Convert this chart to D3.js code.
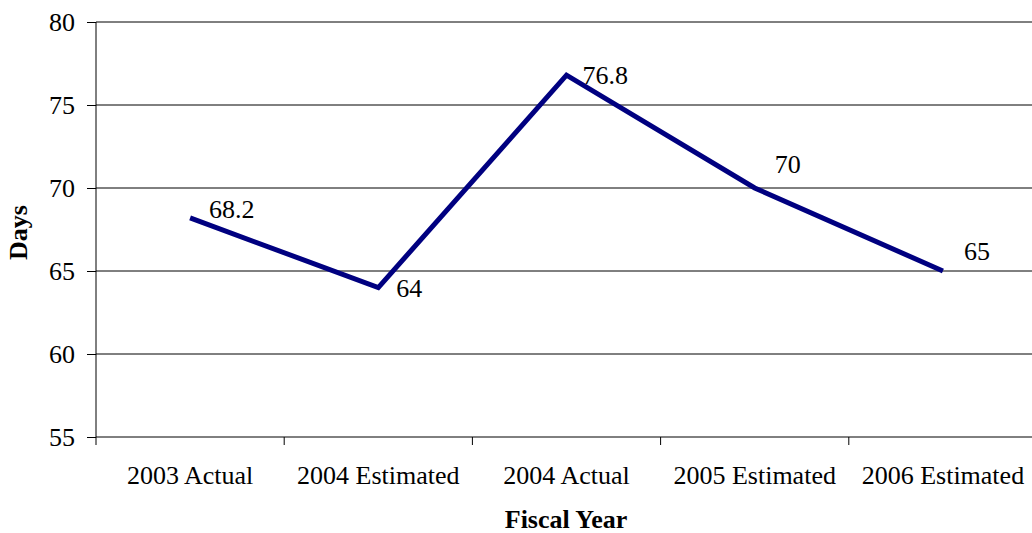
<!DOCTYPE html>
<html>
<head>
<meta charset="utf-8">
<script src="https://cdn.jsdelivr.net/npm/d3@7"></script>
<style>
  html, body { margin: 0; padding: 0; background: #fff; }
  svg { display: block; }
  svg text { font-family: "Liberation Serif", "Times New Roman", "DejaVu Serif", serif; }
</style>
</head>
<body>
<div id="chart"></div>
<script>
const categories = ["2003 Actual", "2004 Estimated", "2004 Actual", "2005 Estimated", "2006 Estimated"];
const days = [68.2, 64, 76.8, 70, 65];
const yTicks = [55, 60, 65, 70, 75, 80];
// hand-placed label nudges (dx from point, dy of text centre from point)
const labelNudge = [[19, -9], [18, 0], [16, 0], [20, -24], [21, -20]];

const SERIF = "Liberation Serif";
const W = 1032, H = 533;
const margin = { top: 22, right: -5, bottom: 96, left: 96 };

const svg = d3.select("#chart").append("svg")
  .attr("width", W).attr("height", H)
  .attr("font-family", SERIF);

const x = d3.scaleBand().domain(categories).range([margin.left, W - margin.right]);
const y = d3.scaleLinear().domain([55, 80]).range([H - margin.bottom, margin.top]);

// gridlines
svg.append("g").selectAll("line").data(yTicks.filter(d => d > 55)).join("line")
  .attr("x1", margin.left).attr("x2", W - margin.right)
  .attr("y1", d => y(d)).attr("y2", d => y(d))
  .attr("stroke", "#000").attr("stroke-width", 1);

// y axis
svg.append("g").attr("transform", `translate(${margin.left},0)`)
  .call(d3.axisLeft(y).tickValues(yTicks).tickSize(9).tickPadding(12))
  .attr("font-family", SERIF)
  .call(g => g.select(".domain").attr("stroke", "#000").attr("d", `M0,${y(55)}V${y(80)}`))
  .call(g => g.selectAll(".tick line").attr("stroke", "#000"))
  .call(g => g.selectAll(".tick text").attr("fill", "#000").attr("font-size", 26)
    .attr("font-family", SERIF));

// x axis with ticks between categories
const xAxisG = svg.append("g").attr("transform", `translate(0,${y(55)})`);
xAxisG.append("line")
  .attr("x1", margin.left).attr("x2", W - margin.right)
  .attr("stroke", "#000").attr("stroke-width", 1);
const bounds = categories.map(c => x(c)).concat([x(categories[categories.length - 1]) + x.bandwidth()]);
xAxisG.selectAll(".xt").data(bounds).join("line").attr("class", "xt")
  .attr("x1", d => d).attr("x2", d => d).attr("y1", 0).attr("y2", 8)
  .attr("stroke", "#000");
xAxisG.selectAll(".xl").data(categories).join("text").attr("class", "xl")
  .attr("x", d => x(d) + x.bandwidth() / 2).attr("y", 47)
  .attr("text-anchor", "middle").attr("font-size", 26).attr("fill", "#000")
  .attr("font-family", SERIF)
  .text(d => d);

// line
const line = d3.line()
  .x((d, i) => x(categories[i]) + x.bandwidth() / 2)
  .y(d => y(d));
svg.append("path").datum(days)
  .attr("d", line)
  .attr("fill", "none").attr("stroke", "#000080").attr("stroke-width", 5)
  .attr("stroke-linejoin", "miter");

// data labels
svg.append("g").selectAll("text").data(days).join("text")
  .attr("x", (d, i) => x(categories[i]) + x.bandwidth() / 2 + labelNudge[i][0])
  .attr("y", (d, i) => y(d) + labelNudge[i][1])
  .attr("dy", "0.35em")
  .attr("font-size", 26).attr("fill", "#000")
  .attr("font-family", SERIF)
  .text(d => d);

// axis titles
svg.append("text")
  .attr("x", 566).attr("y", 528)
  .attr("text-anchor", "middle").attr("font-size", 26).attr("font-weight", "bold")
  .attr("font-family", SERIF)
  .text("Fiscal Year");

svg.append("text")
  .attr("transform", `translate(27,${(y(55) + y(80)) / 2 + 3}) rotate(-90)`)
  .attr("text-anchor", "middle").attr("font-size", 26).attr("font-weight", "bold")
  .attr("font-family", SERIF)
  .text("Days");
</script>
</body>
</html>
